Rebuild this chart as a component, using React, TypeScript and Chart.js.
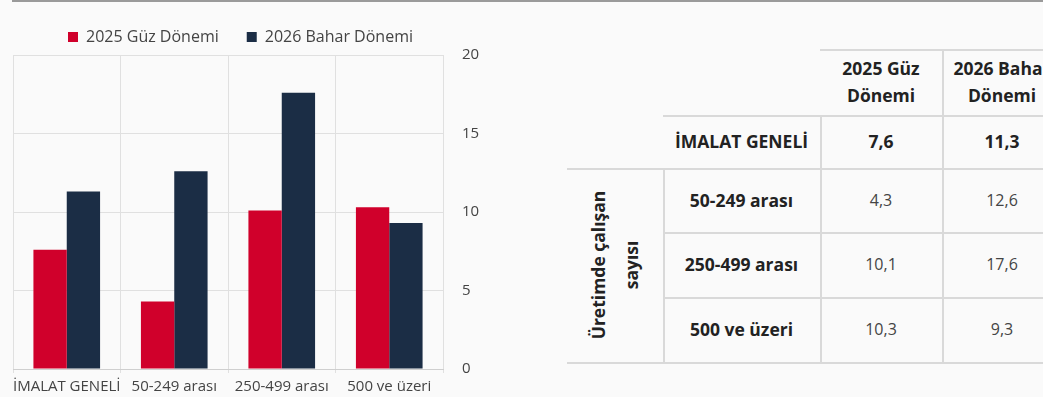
import React, { useEffect, useRef } from 'react';
import { Chart, registerables } from 'chart.js';

Chart.register(...registerables);

const categories = ['İMALAT GENELİ', '50-249 arası', '250-499 arası', '500 ve üzeri'];
const seriesNames = ['2025 Güz Dönemi', '2026 Bahar Dönemi'];
const guzValues = [7.6, 4.3, 10.1, 10.3];
const baharValues = [11.3, 12.6, 17.6, 9.3];
const seriesColors = ['#d0002b', '#1b2d45'];
const yMin = 0;
const yMax = 20;
const yStep = 5;
const headerLines = [['2025 Güz', 'Dönemi'], ['2026 Bahar', 'Dönemi']];
const groupLabel = ['Üretimde çalışan', 'sayısı'];

const FONT = "'Open Sans', 'Noto Sans', sans-serif";
const fmt = (v: number) => v.toFixed(1).replace('.', ',');

const LINE = '#d9d9d9';

function HLine({ x1, x2, y }: { x1: number; x2: number; y: number }) {
  return <div style={{ position: 'absolute', left: x1, top: y, width: x2 - x1, height: 2, background: LINE }} />;
}
function VLine({ x, y1, y2 }: { x: number; y1: number; y2: number }) {
  return <div style={{ position: 'absolute', left: x, top: y1, width: 2, height: y2 - y1, background: LINE }} />;
}
function Cell({ x1, x2, y1, y2, bold, children }: any) {
  return (
    <div
      style={{
        position: 'absolute',
        left: x1,
        top: y1,
        width: x2 - x1,
        height: y2 - y1,
        display: 'flex',
        alignItems: 'center',
        justifyContent: 'center',
        textAlign: 'center',
        fontFamily: FONT,
        fontSize: bold ? 17.5 : 16,
        fontWeight: bold ? 700 : 400,
        color: bold ? '#222' : '#444',
        lineHeight: '27px',
        whiteSpace: 'nowrap',
      }}
    >
      <div>{children}</div>
    </div>
  );
}

export default function App() {
  const canvasRef = useRef<HTMLCanvasElement | null>(null);

  useEffect(() => {
    if (!canvasRef.current) return;
    const chart = new Chart(canvasRef.current, {
      type: 'bar',
      data: {
        labels: categories,
        datasets: [
          {
            label: seriesNames[0],
            data: guzValues,
            backgroundColor: seriesColors[0],
            barPercentage: 1,
            categoryPercentage: 0.62,
          },
          {
            label: seriesNames[1],
            data: baharValues,
            backgroundColor: seriesColors[1],
            barPercentage: 1,
            categoryPercentage: 0.62,
          },
        ],
      },
      options: {
        responsive: false,
        animation: false,
        layout: { padding: { left: 1, right: 10, top: 1, bottom: 0 } },
        plugins: {
          legend: {
            position: 'top',
            labels: {
              boxWidth: 10,
              boxHeight: 10,
              padding: 28,
              color: '#444',
              font: { family: FONT, size: 16 },
            },
          },
          tooltip: { enabled: false },
        },
        scales: {
          x: {
            grid: { color: '#e0e0e0', offset: true, tickLength: 4, drawTicks: true },
            border: { color: '#cfcfcf' },
            ticks: { color: '#444', font: { family: FONT, size: 15 }, padding: 5, maxRotation: 0, autoSkip: false },
            afterFit: (s: any) => {
              s.height = 26;
            },
          },
          y: {
            position: 'right',
            min: yMin,
            max: yMax,
            grid: { color: '#e0e0e0', drawTicks: false },
            border: { display: false },
            ticks: { stepSize: yStep, padding: 19, color: '#444', font: { family: FONT, size: 15 } },
            afterFit: (s: any) => {
              s.width = 37;
            },
          },
          spacer: {
            type: 'linear',
            position: 'left',
            min: yMin,
            max: yMax,
            grid: { display: false },
            border: { display: false },
            ticks: { display: false },
            afterFit: (s: any) => {
              s.width = 12;
            },
          },
        },
      },
    } as any);
    return () => chart.destroy();
  }, []);

  const rowYs = [115, 168, 232, 297, 362];
  const colX = [567, 663, 820, 942, 1062];

  return (
    <div
      style={{
        position: 'fixed',
        left: 0,
        top: 0,
        width: 1043,
        height: 397,
        background: '#fafafa',
        overflow: 'hidden',
      }}
    >
      <div style={{ position: 'absolute', left: 12, top: 0, width: 1031, height: 2, background: '#9a9a9a' }} />
      <canvas ref={canvasRef} width={490} height={397} style={{ position: 'absolute', left: 0, top: 0 }} />

      {/* table lines */}
      <HLine x1={820} x2={1043} y={49} />
      <HLine x1={663} x2={1043} y={rowYs[0]} />
      <HLine x1={567} x2={1043} y={rowYs[1]} />
      <HLine x1={663} x2={1043} y={rowYs[2]} />
      <HLine x1={663} x2={1043} y={rowYs[3]} />
      <HLine x1={567} x2={1043} y={rowYs[4]} />
      <VLine x={942} y1={49} y2={363} />
      <VLine x={820} y1={rowYs[0]} y2={363} />
      <VLine x={663} y1={rowYs[1]} y2={363} />

      {/* header */}
      {headerLines.map((lines, i) => (
        <Cell key={'h' + i} x1={colX[2 + i]} x2={colX[3 + i]} y1={49} y2={rowYs[0]} bold>
          {lines[0]}
          <br />
          {lines[1]}
        </Cell>
      ))}

      {/* rows */}
      {categories.map((cat, r) => (
        <React.Fragment key={'r' + r}>
          <Cell x1={colX[1]} x2={colX[2]} y1={rowYs[r]} y2={rowYs[r + 1]} bold>
            {cat}
          </Cell>
          <Cell x1={colX[2]} x2={colX[3]} y1={rowYs[r]} y2={rowYs[r + 1]} bold={r === 0}>
            {fmt(guzValues[r])}
          </Cell>
          <Cell x1={colX[3]} x2={colX[4]} y1={rowYs[r]} y2={rowYs[r + 1]} bold={r === 0}>
            {fmt(baharValues[r])}
          </Cell>
        </React.Fragment>
      ))}

      {/* rotated group label */}
      <div
        style={{
          position: 'absolute',
          left: 615,
          top: 265,
          transform: 'translate(-50%, -50%) rotate(-90deg)',
          fontFamily: FONT,
          fontSize: 17.5,
          fontWeight: 700,
          color: '#222',
          lineHeight: '33px',
          textAlign: 'center',
          whiteSpace: 'nowrap',
        }}
      >
        {groupLabel[0]}
        <br />
        {groupLabel[1]}
      </div>
    </div>
  );
}
